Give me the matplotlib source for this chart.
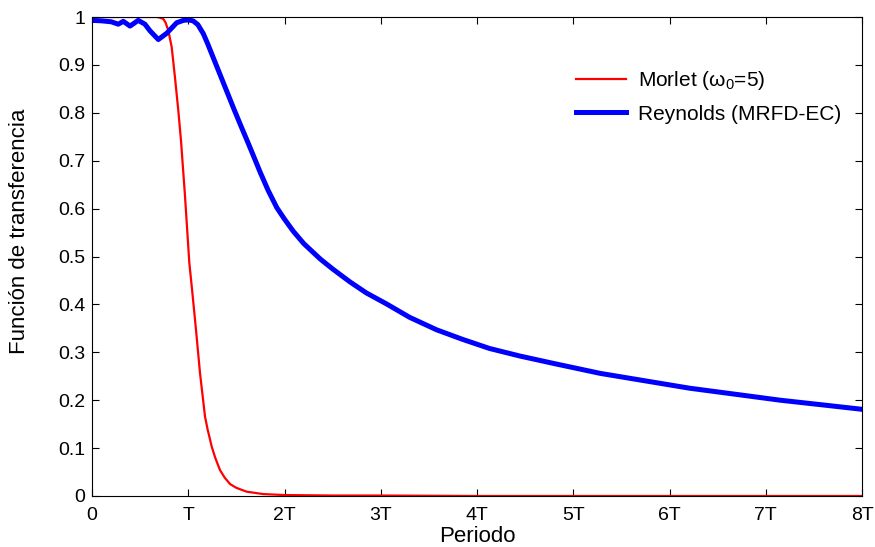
import matplotlib
matplotlib.use("Agg")
import matplotlib.pyplot as plt

plt.rcParams['font.family'] = ['Liberation Sans', 'DejaVu Sans']
plt.rcParams['mathtext.fontset'] = 'custom'
plt.rcParams['mathtext.rm'] = 'Liberation Sans'
plt.rcParams['mathtext.it'] = 'Liberation Sans'

# Data (x in units of period T)
morlet_x = [0, 0.3, 0.6, 0.672, 0.70, 0.741, 0.765, 0.793, 0.828, 0.862, 0.897, 0.925, 0.966, 1.011, 1.04,
            1.08, 1.122, 1.174, 1.2, 1.244, 1.28, 1.33, 1.38, 1.434, 1.5, 1.607, 1.78, 2.0, 2.5, 3.0, 4.0, 5.0, 6.0, 7.0, 8.0]
morlet_y = [1.0, 1.0, 1.0, 1.0, 0.999, 0.996, 0.988, 0.972, 0.937, 0.874, 0.804, 0.741, 0.627, 0.487, 0.43,
            0.348, 0.257, 0.166, 0.14, 0.103, 0.08, 0.054, 0.038, 0.025, 0.017, 0.009, 0.004, 0.002, 0.001, 0.001,
            0.0, 0.0, 0.0, 0.0, 0.0]

reyn_x = [0, 0.1, 0.2, 0.273, 0.325, 0.395, 0.48, 0.55, 0.603, 0.689, 0.776, 0.88, 0.95, 1.0, 1.05, 1.1,
          1.157, 1.2, 1.26, 1.3, 1.40, 1.47, 1.54, 1.62, 1.69, 1.745, 1.83, 1.92, 2.0, 2.09, 2.2, 2.37, 2.5,
          2.68, 2.85, 3.06, 3.3, 3.58, 3.85, 4.13, 4.45, 4.79, 5.0, 5.28, 5.7, 6.21, 6.7, 7.15, 7.6, 8.0]
reyn_y = [0.993, 0.992, 0.99, 0.985, 0.991, 0.981, 0.993, 0.985, 0.971, 0.953, 0.966, 0.988, 0.993, 0.994,
          0.992, 0.984, 0.965, 0.945, 0.915, 0.895, 0.845, 0.81, 0.776, 0.738, 0.704, 0.677, 0.638, 0.602, 0.578,
          0.553, 0.527, 0.495, 0.474, 0.447, 0.424, 0.401, 0.373, 0.347, 0.327, 0.308, 0.292, 0.277, 0.268,
          0.256, 0.242, 0.225, 0.212, 0.20, 0.19, 0.181]

xticks = [0, 1, 2, 3, 4, 5, 6, 7, 8]
xticklabels = ['0', 'T', '2T', '3T', '4T', '5T', '6T', '7T', '8T']
yticks = [0, 0.1, 0.2, 0.3, 0.4, 0.5, 0.6, 0.7, 0.8, 0.9, 1]
yticklabels = ['0', '0.1', '0.2', '0.3', '0.4', '0.5', '0.6', '0.7', '0.8', '0.9', '1']

fig = plt.figure(figsize=(8.75, 5.47), dpi=100)
ax = fig.add_axes([92/875, 1-496/547, (862-92)/875, (496-17)/547])

ax.plot(morlet_x, morlet_y, color='#ff0000', lw=1.6, label='Morlet (ω$_0$=5)')
ax.plot(reyn_x, reyn_y, color='#0000ff', lw=3.6, label='Reynolds (MRFD-EC)')

ax.set_xlim(0, 8)
ax.set_ylim(0, 1)
ax.set_xticks(xticks)
ax.set_xticklabels(xticklabels)
ax.set_yticks(yticks)
ax.set_yticklabels(yticklabels)
ax.tick_params(direction='in', top=True, right=True, length=5, width=0.8, labelsize=14, pad=5)
ax.tick_params(axis='x', pad=8)
for s in ax.spines.values():
    s.set_linewidth(0.8)

ax.set_xlabel('Periodo', fontsize=16, labelpad=1)
ax.set_ylabel('Función de transferencia', fontsize=16)
ax.yaxis.set_label_coords(-0.080, 0.553)

ax.legend(loc='upper right', bbox_to_anchor=(0.997, 0.931), frameon=False, fontsize=15,
          handlelength=2.4, handletextpad=0.58, labelspacing=0.62)

fig.savefig('out.png', dpi=100)
